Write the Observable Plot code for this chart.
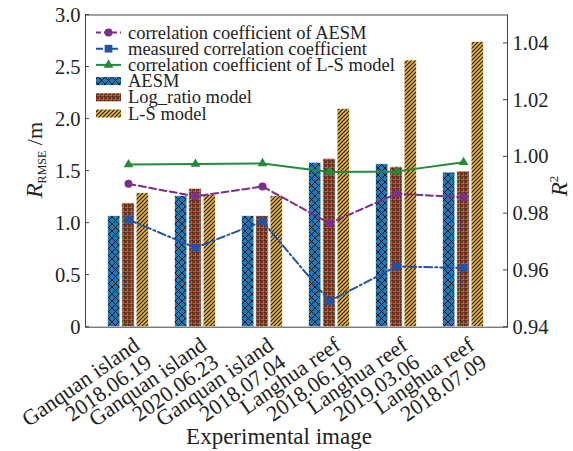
<!DOCTYPE html>
<html>
<head>
<meta charset="utf-8">
<script src="https://cdn.jsdelivr.net/npm/d3@7"></script>
<script src="https://cdn.jsdelivr.net/npm/@observablehq/plot@0.6"></script>
<style>
  html, body { margin: 0; padding: 0; background: #fff; }
  #chart { position: relative; width: 573px; height: 451px; }
  #chart svg, #chart svg text { font-family: "Liberation Serif", "DejaVu Serif", serif !important; }
</style>
</head>
<body>
<svg width="0" height="0" style="position:absolute">
  <defs>
    <pattern id="pat-aesm" patternUnits="userSpaceOnUse" width="7" height="7">
      <rect width="7" height="7" fill="#1f79b9"/>
      <path d="M0,0L7,7M7,0L0,7" stroke="#151515" stroke-width="1"/>
    </pattern>
    <pattern id="pat-log" patternUnits="userSpaceOnUse" width="4" height="4">
      <rect width="4" height="4" fill="#d8582a"/>
      <path d="M0,0H4M0,0V4M2,1.2V2.8M1.2,2H2.8" stroke="#1a1a1a" stroke-width="1"/>
    </pattern>
    <pattern id="pat-ls" patternUnits="userSpaceOnUse" width="4" height="4">
      <rect width="4" height="4" fill="#ebb436"/>
      <path d="M-1,1L1,-1M0,4L4,0M3,5L5,3" stroke="#1a1a1a" stroke-width="1.1"/>
    </pattern>
  </defs>
</svg>
<div id="chart"></div>
<script>
// ---- data ----
const categories = [
  "Ganquan island\n2018.06.19",
  "Ganquan island\n2020.06.23",
  "Ganquan island\n2018.07.04",
  "Langhua reef\n2018.06.19",
  "Langhua reef\n2019.03.06",
  "Langhua reef\n2018.07.09"
];
const rmseAESM = [1.067, 1.259, 1.067, 1.580, 1.567, 1.486];
const rmseLogRatio = [1.190, 1.330, 1.067, 1.618, 1.537, 1.496];
const rmseLS = [1.288, 1.272, 1.259, 2.098, 2.563, 2.740];
const r2AESM = [0.9905, 0.9861, 0.9896, 0.9766, 0.9870, 0.9858];
const r2Measured = [0.9779, 0.9680, 0.9773, 0.9492, 0.9614, 0.9609];
const r2LS = [0.9973, 0.9975, 0.9977, 0.9947, 0.9949, 0.9981];
const leftTicks = [0, 0.5, 1.0, 1.5, 2.0, 2.5, 3.0];
const rightTicks = [0.94, 0.96, 0.98, 1.00, 1.02, 1.04];
const leftDomain = [0, 3];
const rightDomain = [0.94, 1.05];

const legendItems = [
  {label: "correlation coefficient of AESM", kind: "line", color: "#7b2f8c", dash: "5,3", symbol: "circle"},
  {label: "measured correlation coefficient", kind: "line", color: "#2152a5", dash: "7,3,2,3", symbol: "square"},
  {label: "correlation coefficient of L-S model", kind: "line", color: "#238b3a", dash: null, symbol: "triangle"},
  {label: "AESM", kind: "bar", fill: "url(#pat-aesm)"},
  {label: "Log_ratio model", kind: "bar", fill: "url(#pat-log)"},
  {label: "L-S model", kind: "bar", fill: "url(#pat-ls)"}
];

// ---- layout ----
const W = 573, H = 451;
const mL = 85, mR = 66, mT = 14.5, mB = 124.3;
const padIn = 0.367, padOut = 0.295;
const step = (W - mL - mR) / (categories.length - padIn + 2 * padOut);
const bw = step * (1 - padIn);
const third = bw / 3;

const toLeft = v => (v - rightDomain[0]) / (rightDomain[1] - rightDomain[0]) * (leftDomain[1] - leftDomain[0]) + leftDomain[0];

const bars = (vals, idx, fill) => Plot.barY(
  categories.map((c, i) => ({c, v: vals[i]})),
  {x: "c", y: "v", fill, stroke: "#f4f4f4", strokeWidth: 0.8,
   insetLeft: idx * third + 0.5, insetRight: (2 - idx) * third + 0.5}
);
const lineData = vals => categories.map((c, i) => ({c, v: toLeft(vals[i])}));

const font = "'Liberation Serif', 'DejaVu Serif', serif";

const chart = Plot.plot({
  width: W, height: H,
  marginLeft: mL, marginRight: mR, marginTop: mT, marginBottom: mB,
  style: {fontFamily: font, background: "#fff", color: "#222"},
  x: {type: "band", domain: categories, paddingInner: padIn, paddingOuter: padOut, axis: null},
  y: {domain: leftDomain, axis: null},
  marks: [
    bars(rmseAESM, 0, "url(#pat-aesm)"),
    bars(rmseLogRatio, 1, "url(#pat-log)"),
    bars(rmseLS, 2, "url(#pat-ls)"),
    Plot.line(lineData(r2AESM), {x: "c", y: "v", stroke: "#7b2f8c", strokeWidth: 2, strokeDasharray: "7,3.5"}),
    Plot.dot(lineData(r2AESM), {x: "c", y: "v", fill: "#7b2f8c", r: 4, symbol: "circle"}),
    Plot.line(lineData(r2Measured), {x: "c", y: "v", stroke: "#2152a5", strokeWidth: 2, strokeDasharray: "8,3,2,3"}),
    Plot.dot(lineData(r2Measured), {x: "c", y: "v", fill: "#2152a5", r: 4.4, symbol: "square"}),
    Plot.line(lineData(r2LS), {x: "c", y: "v", stroke: "#238b3a", strokeWidth: 2}),
    Plot.dot(lineData(r2LS), {x: "c", y: "v", fill: "#238b3a", r: 3.6, symbol: "triangle"}),
    Plot.frame({stroke: "#444", strokeWidth: 1}),
    Plot.text(leftTicks, {y: d => d, text: d => d === 0 ? "0" : d.toFixed(1), frameAnchor: "left", dx: -5, textAnchor: "end", fontSize: 20.5, fill: "#222"}),
    Plot.text(rightTicks, {y: d => toLeft(d), text: d => d.toFixed(2), frameAnchor: "right", dx: 5, textAnchor: "start", fontSize: 20.5, fill: "#222"}),
    Plot.text(categories, {x: d => d, text: d => d, frameAnchor: "bottom", rotate: -35, textAnchor: "end", lineAnchor: "top", dy: 9, dx: 4, fontSize: 22, lineHeight: 0.95, fill: "#222"})
  ]
});

document.getElementById("chart").appendChild(chart);

const svg = d3.select(chart);
const yPix = v => mT + (1 - (v - leftDomain[0]) / (leftDomain[1] - leftDomain[0])) * (H - mT - mB);
const g = svg.append("g").attr("stroke", "#444").attr("stroke-width", 1);
leftTicks.forEach(t => g.append("line").attr("x1", mL).attr("x2", mL + 4).attr("y1", yPix(t)).attr("y2", yPix(t)));
rightTicks.forEach(t => g.append("line").attr("x1", W - mR - 4).attr("x2", W - mR).attr("y1", yPix(toLeft(t))).attr("y2", yPix(toLeft(t))));

// legend
const lg = svg.append("g").attr("font-family", font).attr("font-size", 18.5).attr("fill", "#222").attr("text-anchor", "start");
const lx = 96, ly0 = 32.5, lstep = 16.2;
legendItems.forEach((it, i) => {
  const y = ly0 + i * lstep;
  if (it.kind === "line") {
    lg.append("line").attr("x1", lx).attr("x2", lx + 25).attr("y1", y).attr("y2", y)
      .attr("stroke", it.color).attr("stroke-width", 2).attr("stroke-dasharray", it.dash);
    const sym = {circle: d3.symbolCircle, square: d3.symbolSquare, triangle: d3.symbolTriangle}[it.symbol];
    const size = {circle: 50, square: 60, triangle: 40}[it.symbol];
    lg.append("path").attr("d", d3.symbol(sym, size)()).attr("transform", `translate(${lx + 12.5},${y})`).attr("fill", it.color);
  } else {
    lg.append("rect").attr("x", lx).attr("y", y - 4).attr("width", 25).attr("height", 8).attr("fill", it.fill);
  }
  lg.append("text").attr("x", lx + 32).attr("y", y).attr("dy", "0.33em").text(it.label);
});

// axis titles
const yl = svg.append("text").attr("font-family", font).attr("fill", "#222").attr("text-anchor", "middle")
  .attr("transform", `translate(42,160) rotate(-90)`);
yl.append("tspan").attr("font-style", "italic").attr("font-size", 24).text("R");
yl.append("tspan").attr("font-size", 12).attr("dy", 4).text("RMSE");
yl.append("tspan").attr("font-size", 22).attr("dy", -4).text(" /m");

const yr = svg.append("text").attr("font-family", font).attr("fill", "#222").attr("text-anchor", "middle")
  .attr("transform", `translate(567,186) rotate(-90)`);
yr.append("tspan").attr("font-style", "italic").attr("font-size", 23).text("R");
yr.append("tspan").attr("font-size", 13).attr("dy", -9).text("2");

svg.append("text").attr("font-family", font).attr("fill", "#222").attr("font-size", 23).attr("text-anchor", "middle")
  .attr("x", 279).attr("y", 444).text("Experimental image");
</script>
</body>
</html>
